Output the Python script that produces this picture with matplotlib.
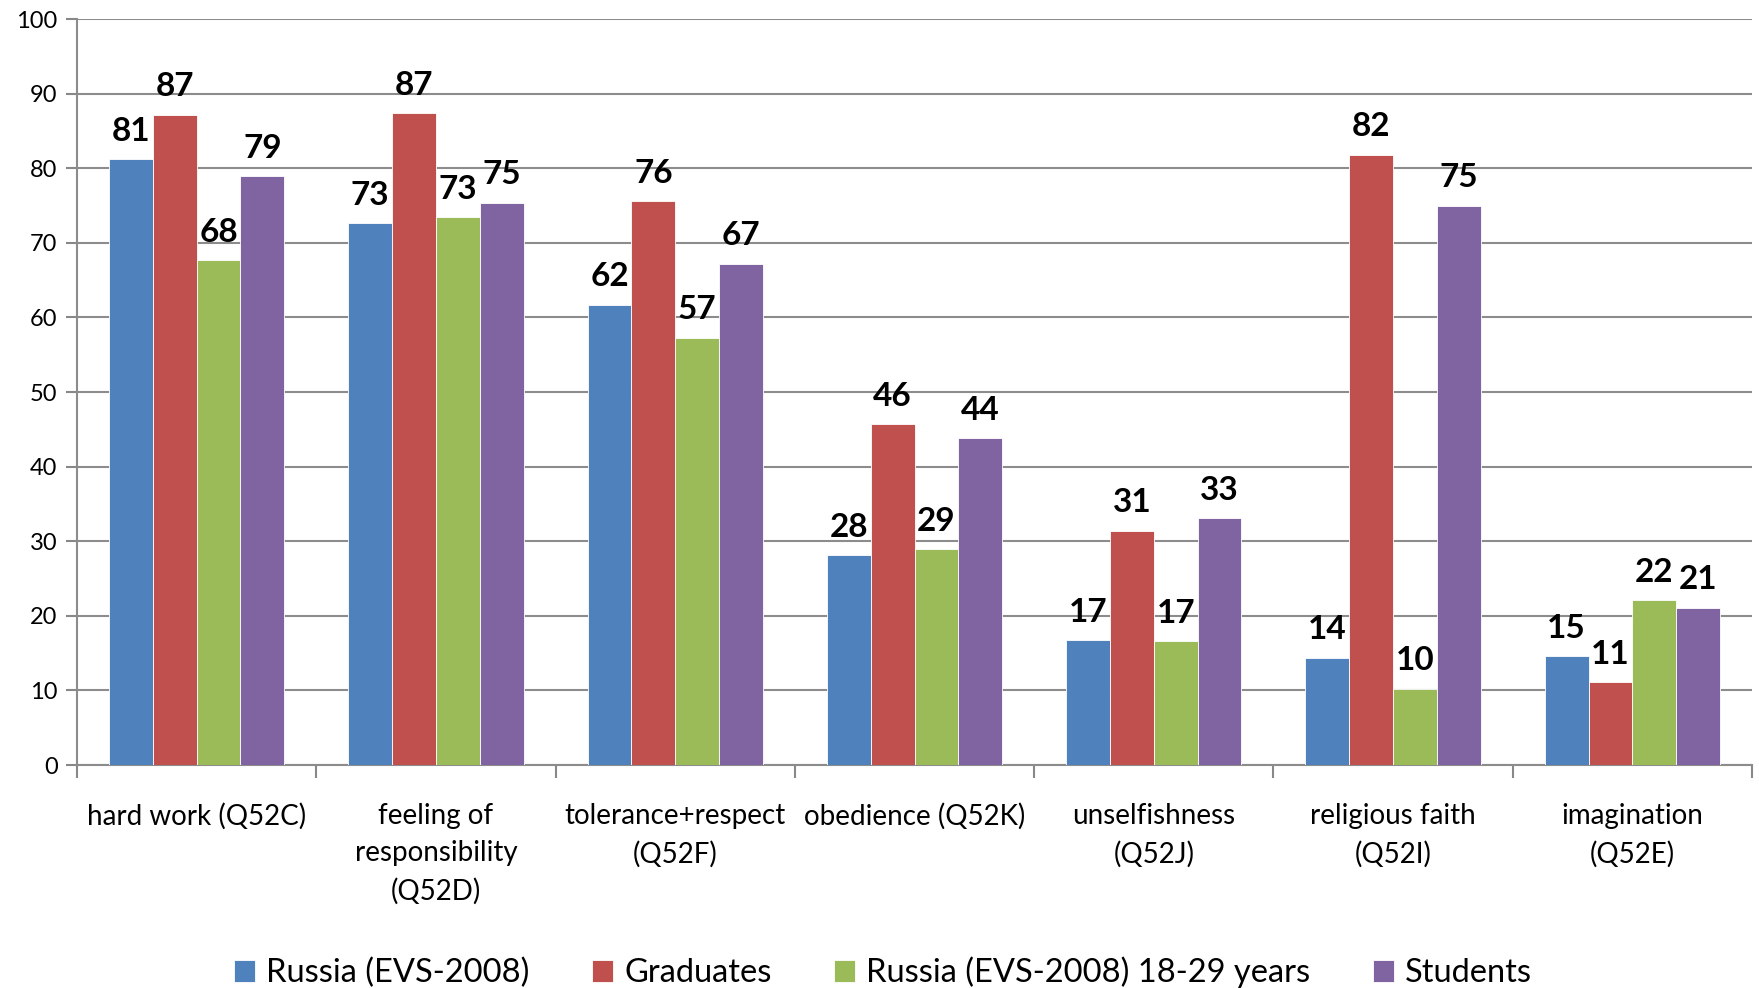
import matplotlib.pyplot as plt
import numpy as np

plt.rcParams['font.family'] = ['Lato', 'DejaVu Sans']

categories = ['hard work (Q52C)', 'feeling of\nresponsibility\n(Q52D)', 'tolerance+respect\n(Q52F)',
              'obedience (Q52K)', 'unselfishness\n(Q52J)', 'religious faith\n(Q52I)', 'imagination\n(Q52E)']
series_names = ['Russia (EVS-2008)', 'Graduates', 'Russia (EVS-2008) 18-29 years', 'Students']
russia = [81.2, 72.6, 61.7, 28.1, 16.7, 14.4, 14.6]
graduates = [87.2, 87.4, 75.6, 45.7, 31.4, 81.8, 11.1]
russia_young = [67.7, 73.4, 57.3, 28.9, 16.6, 10.2, 22.1]
students = [78.9, 75.4, 67.2, 43.8, 33.1, 75.0, 21.1]
colors = ['#4f81bd', '#c0504d', '#9bbb59', '#8064a2']

fig = plt.figure(figsize=(17.59, 9.88), dpi=100)
ax = fig.add_axes([0.0438, 0.2257, 0.9522, 0.755])

x = np.arange(len(categories))
w = 0.183
for i, (vals, name) in enumerate(zip([russia, graduates, russia_young, students], series_names)):
    pos = x + (i - 1.5) * w
    ax.bar(pos, vals, w, color=colors[i], edgecolor='white', linewidth=0.6, label=name, zorder=3)
    for p, v in zip(pos, vals):
        ax.text(p, v + 1.8, f'{round(v):d}', ha='center', va='bottom',
                fontsize=24, fontweight='bold', zorder=4)

ax.set_xlim(-0.5, len(categories) - 0.5)
ax.set_ylim(0, 100)
ax.set_yticks(range(0, 101, 10))
ax.tick_params(axis='y', labelsize=17, length=8, color='#888888', width=1.5, pad=6)
ax.yaxis.grid(True, color='#8c8c8c', linewidth=1.5, zorder=0)

ax.set_xticks(np.arange(-0.5, len(categories), 1.0))
ax.set_xticklabels([])
ax.set_xticks(x, minor=True)
ax.set_xticklabels(categories, minor=True, fontsize=20, linespacing=1.55)
ax.tick_params(axis='x', which='major', length=9, color='#888888', width=1.5)
ax.tick_params(axis='x', which='minor', length=0, pad=27)

for s in ['top', 'right']:
    ax.spines[s].set_visible(False)
for s in ['left', 'bottom']:
    ax.spines[s].set_color('#8c8c8c')
    ax.spines[s].set_linewidth(1.5)

fig.legend(loc='lower center', bbox_to_anchor=(0.502, -0.03), ncol=4, frameon=False,
           fontsize=23.5, handlelength=0.65, handleheight=0.65, handletextpad=0.35, columnspacing=1.9)

fig.savefig('out.png', dpi=100)
